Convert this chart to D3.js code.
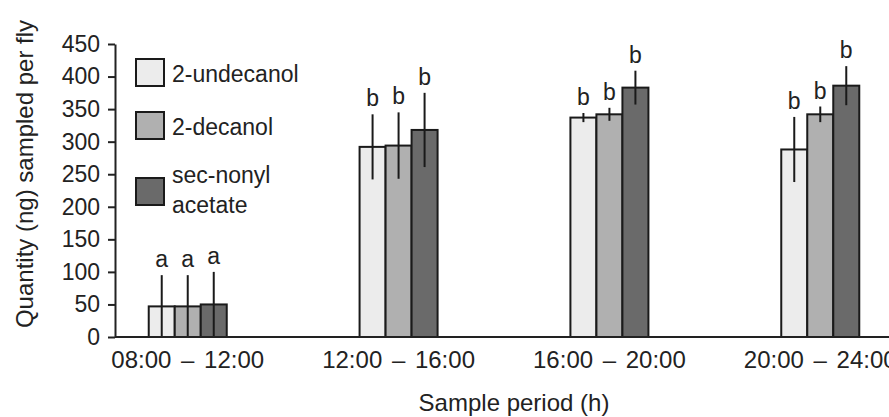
<!DOCTYPE html>
<html>
<head>
<meta charset="utf-8">
<script src="https://cdn.jsdelivr.net/npm/d3@7"></script>
<style>
  body { margin: 0; background: #fff; }
  svg { display: block; font-family: "Liberation Sans", Arial, sans-serif; }
</style>
</head>
<body>
<div id="chart"></div>
<script>
var periods = ["08:00 \u2013 12:00", "12:00 \u2013 16:00", "16:00 \u2013 20:00", "20:00 \u2013 24:00"];
var compounds = ["2-undecanol", "2-decanol", "sec-nonyl acetate"];

// mean quantity (ng) per fly, per sample period
var undecanol = [47, 292, 337, 288];
var decanol = [47, 294, 342, 342];
var nonylAcetate = [50, 318, 383, 386];

// standard errors
var undecanolSE = [48, 50, 7, 50];
var decanolSE = [48, 51, 10, 12];
var nonylAcetateSE = [50, 57, 26, 30];

// significance letters per period
var letters = ["a", "b", "b", "b"];

var yTicks = [0, 50, 100, 150, 200, 250, 300, 350, 400, 450];

var width = 889, height = 417;
var fills = ["#ececec", "#b0b0b0", "#6a6a6a"];

var series = [undecanol, decanol, nonylAcetate];
var seriesSE = [undecanolSE, decanolSE, nonylAcetateSE];

var rows = [];
periods.forEach(function(p, i) {
  compounds.forEach(function(c, j) {
    rows.push({period: p, compound: c, value: series[j][i], se: seriesSE[j][i], letter: letters[i], k: j});
  });
});

var svg = d3.select("#chart").append("svg")
    .attr("width", width)
    .attr("height", height);

var x = d3.scaleBand()
    .domain(periods)
    .range([115, 893])
    .paddingInner(0.63)
    .paddingOuter(0.16);

var xSub = d3.scaleBand()
    .domain(compounds)
    .range([0, x.bandwidth()]);

var y = d3.scaleLinear()
    .domain([0, 450])
    .range([337, 44]);

// y axis
var yAxis = svg.append("g")
    .attr("transform", "translate(115,0)")
    .call(d3.axisLeft(y).tickValues(yTicks).tickSize(7).tickSizeOuter(0).tickPadding(8));
yAxis.select(".domain").attr("stroke", "#222").attr("stroke-width", 2);
yAxis.selectAll(".tick line").attr("stroke", "#222").attr("stroke-width", 2);
yAxis.selectAll(".tick text")
    .attr("font-size", 23)
    .attr("fill", "#222")
    .attr("font-family", "Liberation Sans, Arial, sans-serif");

// bars
svg.append("g").selectAll("rect")
    .data(rows)
    .enter().append("rect")
      .attr("x", function(d) { return x(d.period) + xSub(d.compound); })
      .attr("y", function(d) { return y(d.value); })
      .attr("width", xSub.bandwidth())
      .attr("height", function(d) { return y(0) - y(d.value); })
      .attr("fill", function(d) { return fills[d.k]; })
      .attr("stroke", "#1a1a1a")
      .attr("stroke-width", 2);

// error bars
svg.append("g").selectAll("line")
    .data(rows)
    .enter().append("line")
      .attr("x1", function(d) { return x(d.period) + xSub(d.compound) + xSub.bandwidth() / 2; })
      .attr("x2", function(d) { return x(d.period) + xSub(d.compound) + xSub.bandwidth() / 2; })
      .attr("y1", function(d) { return y(d.value + d.se); })
      .attr("y2", function(d) { return y(Math.max(0, d.value - d.se)); })
      .attr("stroke", "#1a1a1a")
      .attr("stroke-width", 2);

// letters
svg.append("g").selectAll("text")
    .data(rows)
    .enter().append("text")
      .attr("x", function(d) { return x(d.period) + xSub(d.compound) + xSub.bandwidth() / 2; })
      .attr("y", function(d) { return y(d.value + d.se) - 8; })
      .attr("text-anchor", "middle")
      .attr("font-size", 23)
      .attr("fill", "#222")
      .text(function(d) { return d.letter; });

// x axis
var xAxis = svg.append("g")
    .attr("transform", "translate(0," + y(0) + ")")
    .call(d3.axisBottom(x).tickSize(0).tickPadding(14));
xAxis.select(".domain").attr("stroke", "#222").attr("stroke-width", 2)
    .attr("d", "M115,0H" + (width + 10));
xAxis.selectAll(".tick text")
    .attr("font-size", 24)
    .attr("word-spacing", 3)
    .attr("fill", "#222")
    .attr("font-family", "Liberation Sans, Arial, sans-serif");

// axis titles
svg.append("text")
    .attr("x", (115 + 893) / 2 + 10)
    .attr("y", 411)
    .attr("text-anchor", "middle")
    .attr("font-size", 24)
    .attr("fill", "#222")
    .text("Sample period (h)");

svg.append("text")
    .attr("transform", "translate(33," + 174 + ") rotate(-90)")
    .attr("text-anchor", "middle")
    .attr("font-size", 24)
    .attr("fill", "#222")
    .text("Quantity (ng) sampled per fly");

// legend
var legendRows = [["2-undecanol"], ["2-decanol"], ["sec-nonyl", "acetate"]];
var legendY = [59, 112, 178];
var legend = svg.append("g").selectAll("g")
    .data(compounds)
    .enter().append("g")
      .attr("transform", function(d, i) { return "translate(136," + legendY[i] + ")"; });

legend.append("rect")
    .attr("width", 28)
    .attr("height", 27)
    .attr("fill", function(d, i) { return fills[i]; })
    .attr("stroke", "#1a1a1a")
    .attr("stroke-width", 2);

legend.append("text")
    .attr("x", 36)
    .attr("font-size", 23)
    .attr("fill", "#222")
    .each(function(d, i) {
      var t = d3.select(this);
      var lines = legendRows[i];
      lines.forEach(function(l, k) {
        t.append("tspan")
          .attr("x", 36)
          .attr("y", (lines.length > 1 ? 5 : 23) + k * 30)
          .text(l);
      });
    });
</script>
</body>
</html>
